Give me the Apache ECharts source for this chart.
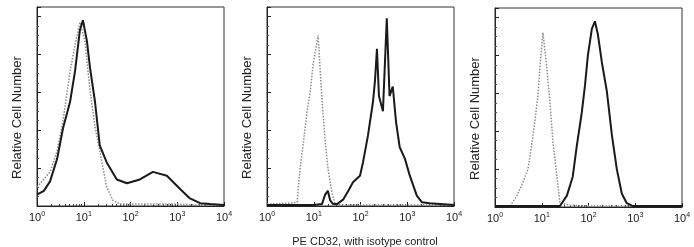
<!DOCTYPE html>
<html lang="en">
<head>
    <meta charset="UTF-8" />
    <title>PE CD32, with isotype control</title>
    <script src="https://cdn.jsdelivr.net/npm/echarts@6.0.0/dist/echarts.min.js"></script>
    <style>
        body { margin: 0; background: #fff; }
        #chart { width: 694px; height: 247px; }
    </style>
</head>
<body>
    <div id="chart"></div>
    <script>
        // fluorescence intensity (log scale) and relative cell counts
        const p1SampleX = [1, 1.4, 1.9, 2.7, 3.6, 5.1, 6.5, 8.3, 9.6, 11.7, 13.6, 17.4, 22, 31, 51, 84, 159, 302, 600, 1150, 1870, 3080, 5000, 10000];
        const p1SampleY = [6, 8, 13, 25, 41, 55, 71, 93, 98, 87, 73, 55, 32, 23, 14, 12, 14, 18, 16, 9, 4, 1.5, 1, 0.5];
        const p1IsoX = [1, 1.9, 2.7, 3.6, 5.1, 6.5, 8.3, 10.6, 13.6, 17.4, 22, 31, 42, 60, 100, 300, 1000, 3000, 10000];
        const p1IsoY = [10, 18, 29, 45, 71, 85, 97, 87, 61, 42, 29, 10, 3, 1, 1, 1, 1, 0.5, 0.5];

        const p2SampleX = [1, 10, 15, 17.5, 20, 22.4, 26, 31.6, 43, 55, 69, 97.5, 113, 144, 185, 204, 225, 248, 302, 365, 418, 490, 578, 690, 890, 1135, 1600, 2050, 3020, 10000];
        const p2SampleY = [0.5, 0.5, 1, 6, 8, 3, 1, 1, 3.5, 8, 12.5, 16, 23, 37, 55, 66, 83, 58, 50, 99, 58, 63, 44, 31, 25, 16, 5.5, 2, 1.5, 0.5];
        const p2IsoX = [1, 3, 4.4, 5.1, 5.9, 7.2, 8.4, 9.7, 12.4, 15.1, 17.6, 20.3, 24.6, 28.6, 40, 100, 1000, 10000];
        const p2IsoY = [1, 1.5, 2, 20, 32, 50, 60, 75, 90, 55, 34, 19, 7, 1, 0.5, 0.5, 0.5, 0.5];

        const p3SampleX = [1, 10, 24.5, 34.5, 46, 56, 72, 84, 97, 118, 137, 159, 194, 247, 316, 403, 517, 660, 890, 2000, 10000];
        const p3SampleY = [0.5, 0.5, 0.5, 6, 16, 32, 50, 64, 80, 94, 98, 91, 76, 61, 38, 20, 7, 2, 0.5, 0.5, 0.5];
        const p3IsoX = [1, 2.1, 2.95, 3.96, 5.07, 6.2, 7.2, 8.3, 9.1, 10.6, 12.9, 15, 17.4, 21.1, 24.5, 40, 100, 1000, 10000];
        const p3IsoY = [0.5, 0.5, 6, 13, 20, 34, 46, 59, 73, 92, 73, 55, 34, 16, 2, 1, 0.5, 0.5, 0.5];

        const yName = 'Relative Cell Number';
        const xTitle = 'PE CD32, with isotype control';

        const panels = [
            { left: 37, top: 7, sx: p1SampleX, sy: p1SampleY, ix: p1IsoX, iy: p1IsoY },
            { left: 267, top: 7, sx: p2SampleX, sy: p2SampleY, ix: p2IsoX, iy: p2IsoY },
            { left: 495, top: 8, sx: p3SampleX, sy: p3SampleY, ix: p3IsoX, iy: p3IsoY }
        ];

        function pairs(xs, ys) {
            return xs.map((x, i) => [x, ys[i]]);
        }

        const chart = echarts.init(document.getElementById('chart'));
        const font = 'Liberation Sans, Arial, sans-serif';

        chart.setOption({
            animation: false,
            grid: panels.map(p => ({
                left: p.left, top: p.top, width: 187, height: 199,
                show: true, borderColor: '#333', borderWidth: 1
            })),
            xAxis: panels.map((p, i) => ({
                type: 'log', gridIndex: i, min: 1, max: 10000, logBase: 10,
                axisLine: { lineStyle: { color: '#222' } },
                axisTick: { inside: true, length: 4, lineStyle: { color: '#222' } },
                minorTick: { show: true, splitNumber: 9, length: 2, lineStyle: { color: '#444' } },
                splitLine: { show: false },
                axisLabel: {
                    margin: 5, color: '#222', fontFamily: font, fontSize: 11,
                    formatter: v => '10{s|' + Math.round(Math.log10(v)) + '}',
                    rich: { s: { fontSize: 7, fontFamily: font, color: '#222', padding: [0, 0, 6, 0] } }
                }
            })),
            yAxis: panels.map((p, i) => ({
                type: 'value', gridIndex: i, min: 0, max: 105, interval: 20,
                name: yName, nameLocation: 'middle', nameGap: 13,
                nameTextStyle: { fontFamily: font, fontSize: 13, color: '#222', padding: [0, 22, 0, 0] },
                axisLine: { show: true, lineStyle: { color: '#222' } },
                axisTick: { show: true, inside: true, length: 4, lineStyle: { color: '#222' } },
                minorTick: { show: true, splitNumber: 4, length: 2, lineStyle: { color: '#555' } },
                axisLabel: { show: false },
                splitLine: { show: false }
            })),
            title: {
                text: xTitle, left: 360, top: 231, textAlign: 'center',
                textStyle: { fontFamily: font, fontSize: 11, fontWeight: 'normal', color: '#222' }
            },
            series: panels.flatMap((p, i) => [
                {
                    type: 'line', xAxisIndex: i, yAxisIndex: i, showSymbol: false,
                    data: pairs(p.ix, p.iy),
                    lineStyle: { color: '#8c8c8c', width: 1.5, type: 'dotted' }
                },
                {
                    type: 'line', xAxisIndex: i, yAxisIndex: i, showSymbol: false,
                    data: pairs(p.sx, p.sy),
                    lineStyle: { color: '#1a1a1a', width: 2 }
                }
            ])
        });
    </script>
</body>
</html>
